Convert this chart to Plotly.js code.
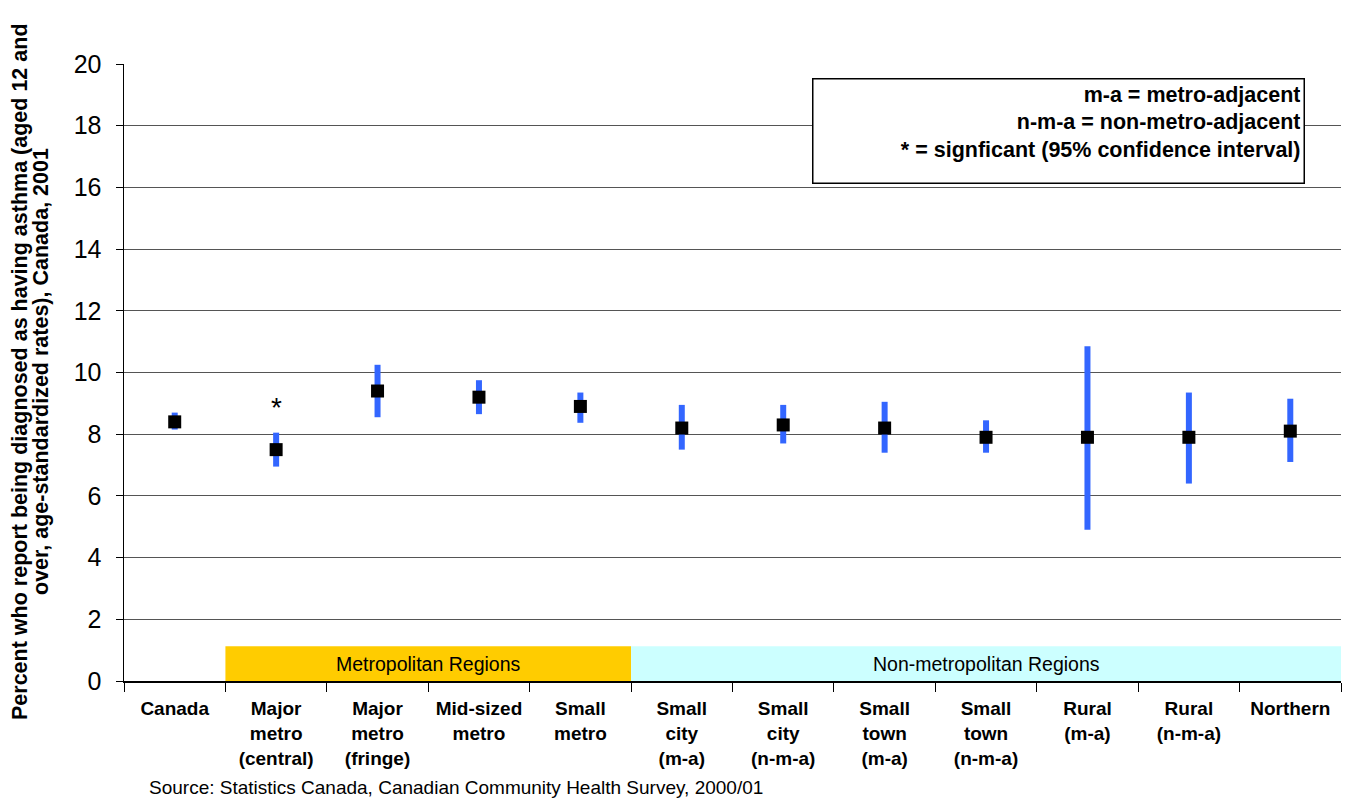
<!DOCTYPE html>
<html>
<head>
<meta charset="utf-8">
<script src="https://cdn.plot.ly/plotly-3.0.1.min.js"></script>
<style>html,body{margin:0;padding:0;background:#fff;}#chart{width:1351px;height:798px;}</style>
</head>
<body>
<div id="chart"></div>
<script>
var categories = ["Canada","Major<br>metro<br>(central)","Major<br>metro<br>(fringe)","Mid-sized<br>metro","Small<br>metro","Small<br>city<br>(m-a)","Small<br>city<br>(n-m-a)","Small<br>town<br>(m-a)","Small<br>town<br>(n-m-a)","Rural<br>(m-a)","Rural<br>(n-m-a)","Northern"];
var rates = [8.4, 7.5, 9.4, 9.2, 8.9, 8.2, 8.3, 8.2, 7.9, 7.9, 7.9, 8.1];
var ciLow = [8.15, 6.95, 8.55, 8.65, 8.37, 7.5, 7.7, 7.4, 7.4, 4.9, 6.4, 7.1];
var ciHigh = [8.7, 8.05, 10.25, 9.75, 9.35, 8.95, 8.95, 9.05, 8.45, 10.85, 9.35, 9.15];
var yTicks = [0, 2, 4, 6, 8, 10, 12, 14, 16, 18, 20];
var groupLabels = ["Metropolitan Regions", "Non-metropolitan Regions"];
var groupStart = [1, 5];
var groupEnd = [4, 11];
var groupColors = ["#FFCC00", "#CCFFFF"];
var bandTop = 1.13;
var significant = [1];
var yTitleLines = ["Percent who report being diagnosed as having asthma (aged 12 and", "over, age-standardized rates), Canada, 2001"];

var FONT = 'Liberation Sans, Arial, sans-serif';
var xLabels = categories.map(function(c){ return '<b>' + c + '</b>'; });

var trace = {
  type: 'scatter', mode: 'markers',
  x: xLabels, y: rates,
  marker: {symbol: 'square', size: 13, color: '#000'},
  error_y: {
    type: 'data', symmetric: false,
    array: rates.map(function(v, i){ return ciHigh[i] - v; }),
    arrayminus: rates.map(function(v, i){ return v - ciLow[i]; }),
    color: '#3366FF', thickness: 6, width: 0
  },
  hoverinfo: 'x+y', showlegend: false
};

var shapes = [];
var annotations = [];
for (var g = 0; g < groupLabels.length; g++) {
  shapes.push({type: 'rect', xref: 'x', yref: 'y', layer: 'below',
    x0: groupStart[g] - 0.5, x1: groupEnd[g] + 0.5, y0: 0, y1: bandTop,
    fillcolor: groupColors[g], line: {width: 0}});
  annotations.push({xref: 'x', yref: 'y', x: (groupStart[g] + groupEnd[g]) / 2, y: bandTop / 2,
    text: groupLabels[g], showarrow: false, font: {family: FONT, size: 19.5, color: '#000'}});
}
significant.forEach(function(i){
  annotations.push({xref: 'x', yref: 'y', x: i, y: 8.85, text: '*', showarrow: false,
    font: {family: FONT, size: 28, color: '#000'}});
});
annotations.push({xref: 'paper', yref: 'paper', x: 0.9704, y: 0.977, xanchor: 'right', yanchor: 'top',
  text: '<b>m-a = metro-adjacent<br>n-m-a = non-metro-adjacent<br>* = signficant (95% confidence interval)</b>',
  align: 'right', valign: 'top', showarrow: false, width: 484, height: 97, borderpad: 3,
  bordercolor: '#000', borderwidth: 1.5, bgcolor: '#fff',
  font: {family: FONT, size: 21.5, color: '#000'}});
annotations.push({xref: 'paper', yref: 'paper', x: (147 - 124) / 1217, y: -0.172, xanchor: 'left', yanchor: 'middle',
  text: 'Source: Statistics Canada, Canadian Community Health Survey, 2000/01', showarrow: false,
  font: {family: FONT, size: 19, color: '#000'}});
var titleX = [20, 41];
yTitleLines.forEach(function(t, k){
  annotations.push({xref: 'paper', yref: 'paper', x: (titleX[k] - 124) / 1217, y: (681 - 372) / 617,
    xanchor: 'center', yanchor: 'middle', textangle: -90, showarrow: false,
    text: '<b>' + t + '</b>', font: {family: FONT, size: 21.5, color: '#000'}});
});

var layout = {
  width: 1351, height: 798,
  margin: {l: 124, r: 10, t: 64, b: 117},
  paper_bgcolor: '#fff', plot_bgcolor: '#fff',
  font: {family: FONT, color: '#000'},
  xaxis: {
    type: 'category', range: [-0.5, 11.5],
    ticks: 'outside', ticklen: 9, tickcolor: '#000', tickwidth: 1,
    tickson: 'boundaries', showgrid: false, zeroline: false,
    showline: true, linecolor: '#000', linewidth: 1.5, ticklabelstandoff: 10,
    tickfont: {family: FONT, size: 19, color: '#000'}
  },
  yaxis: {
    range: [0, 20], tickvals: yTicks, ticks: 'outside', ticklen: 7, tickcolor: '#000',
    showgrid: true, gridcolor: '#555', gridwidth: 1, zeroline: false,
    showline: true, linecolor: '#000', linewidth: 1.5, ticklabelstandoff: 9,
    tickfont: {family: FONT, size: 25, color: '#000'}
  },
  shapes: shapes,
  annotations: annotations
};

Plotly.newPlot('chart', [trace], layout, {displayModeBar: false, staticPlot: true});
</script>
</body>
</html>
